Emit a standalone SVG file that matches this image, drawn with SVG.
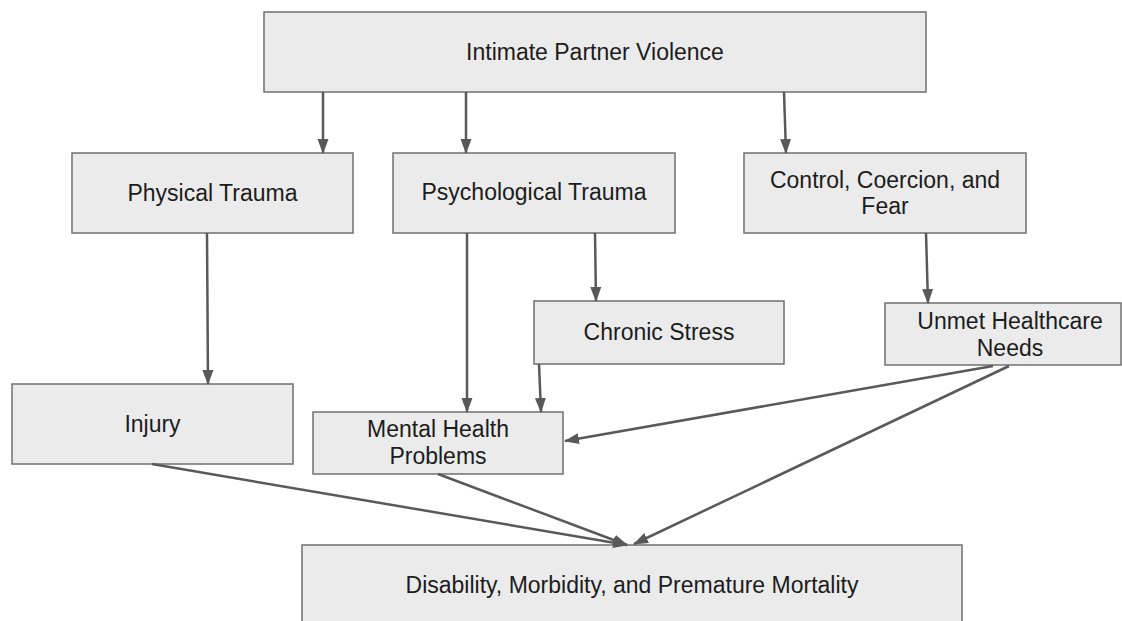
<svg xmlns="http://www.w3.org/2000/svg" width="1122" height="621" viewBox="0 0 1122 621">
<style>
.box{fill:#ebebeb;stroke:#707070;stroke-width:1.5}
.lbl{font-family:"Liberation Sans",Arial,sans-serif;font-size:23px;fill:#1c1c1c;text-anchor:middle}
.edge{stroke:#595959;stroke-width:2.5;fill:none;marker-end:url(#ah)}
</style>
<defs>
<marker id="ah" markerUnits="userSpaceOnUse" markerWidth="15" markerHeight="12" viewBox="0 0 15 12" refX="14" refY="6" orient="auto">
<path d="M0,0.5 L15,6 L0,11.5 Z" fill="#595959"/>
</marker>
</defs>
<rect width="1122" height="621" fill="#ffffff"/>
<g id="n-ipv"><rect class="box" x="264" y="12" width="662" height="80"/><text class="lbl" x="595" y="60">Intimate Partner Violence</text></g>
<g id="n-physical"><rect class="box" x="72" y="153" width="281" height="80"/><text class="lbl" x="212.5" y="201">Physical Trauma</text></g>
<g id="n-psych"><rect class="box" x="393" y="153" width="282" height="80"/><text class="lbl" x="534" y="200">Psychological Trauma</text></g>
<g id="n-control"><rect class="box" x="744" y="153" width="282" height="80"/><text class="lbl" x="885" y="188">Control, Coercion, and</text><text class="lbl" x="885" y="214">Fear</text></g>
<g id="n-chronic"><rect class="box" x="534" y="301" width="250" height="63"/><text class="lbl" x="659" y="340">Chronic Stress</text></g>
<g id="n-unmet"><rect class="box" x="885" y="303" width="236" height="62"/><text class="lbl" x="1010" y="329">Unmet Healthcare</text><text class="lbl" x="1010" y="356">Needs</text></g>
<g id="n-injury"><rect class="box" x="12" y="384" width="281" height="80"/><text class="lbl" x="152.5" y="432">Injury</text></g>
<g id="n-mental"><rect class="box" x="313" y="412" width="250" height="62"/><text class="lbl" x="438" y="437">Mental Health</text><text class="lbl" x="438" y="464">Problems</text></g>
<g id="n-outcome"><rect class="box" x="302" y="545" width="660" height="84"/><text class="lbl" x="632" y="593">Disability, Morbidity, and Premature Mortality</text></g>
<g id="connectors">
<line class="edge" x1="323" y1="92" x2="323" y2="153"/>
<line class="edge" x1="466" y1="92" x2="466" y2="153"/>
<line class="edge" x1="784" y1="92" x2="786" y2="153"/>
<line class="edge" x1="207" y1="233" x2="208" y2="384"/>
<line class="edge" x1="467" y1="233" x2="467" y2="412"/>
<line class="edge" x1="595" y1="233" x2="596" y2="301"/>
<line class="edge" x1="539" y1="364" x2="541" y2="412"/>
<line class="edge" x1="926" y1="233" x2="928" y2="303"/>
<line class="edge" x1="993" y1="366" x2="565" y2="441"/>
<line class="edge" x1="1009" y1="366" x2="634" y2="544"/>
<line class="edge" x1="152" y1="464" x2="627" y2="545"/>
<line class="edge" x1="438" y1="474" x2="627" y2="545"/>
</g>
</svg>
